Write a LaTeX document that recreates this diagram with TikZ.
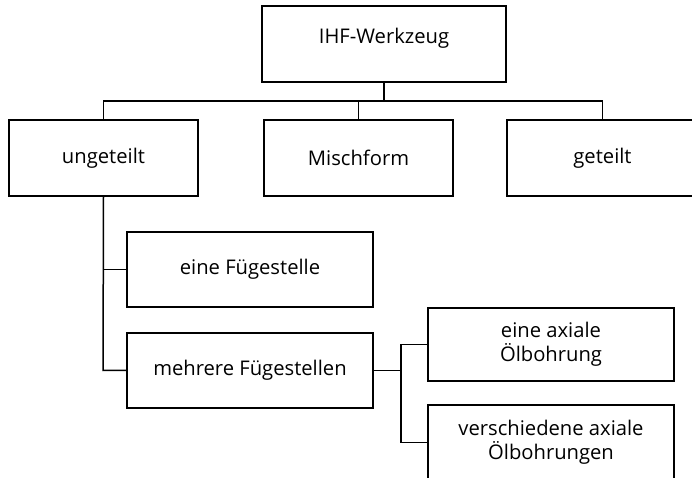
\documentclass[tikz,border=0pt]{standalone}
\usepackage{fontspec}
\setmainfont{Open Sans}
\begin{document}
\begin{tikzpicture}[x=1pt,y=1pt,
  box/.style={draw, line width=1.5pt, rectangle, inner sep=0pt, font=\fontsize{20.2}{24.3}\selectfont, align=center},
  conn/.style={line width=1.5pt}]
\useasboundingbox (0,0) rectangle (692,478);
\clip (0,0) rectangle (692,478);
\node[box, minimum width=244pt, minimum height=76pt, text height=7pt, text depth=7pt] (top) at (384,434) {IHF-Werkzeug};
\node[box, minimum width=189pt, minimum height=76pt] (ung) at (103.5,320) {ungeteilt};
\node[box, minimum width=189pt, minimum height=76pt] (misch) at (358.5,320) {Mischform};
\node[box, minimum width=191pt, minimum height=76pt] (get) at (602.5,320) {geteilt};
\node[box, minimum width=246pt, minimum height=75pt] (eine) at (250,208.5) {eine Fügestelle};
\node[box, minimum width=246pt, minimum height=75pt] (mehr) at (250,107.5) {mehrere Fügestellen};
\node[box, minimum width=246pt, minimum height=73pt] (ax) at (551,133.5) {eine axiale\\Ölbohrung};
\node[box, minimum width=246pt, minimum height=75pt] (vax) at (551,35.5) {verschiedene axiale\\Ölbohrungen};
\coordinate (bus) at (0,377);
\coordinate (trunk) at (103,0);
\coordinate (subtrunk) at (401,0);
\draw[conn] (top.south) -- (top.south |- bus);
\draw[conn] (ung.north) -- (ung.north |- bus) -- (get.north |- bus) -- (get.north);
\draw[conn] (misch.north) -- (misch.north |- bus);
\draw[conn] (ung.south) -- (trunk |- mehr.west) -- (mehr.west);
\draw[conn] (eine.west) -- (trunk |- eine.west);
\draw[conn] (mehr.east) -- (subtrunk |- mehr.east);
\draw[conn] (ax.west) -- (subtrunk |- ax.west) -- (subtrunk |- vax.west) -- (vax.west);
\end{tikzpicture}
\end{document}
